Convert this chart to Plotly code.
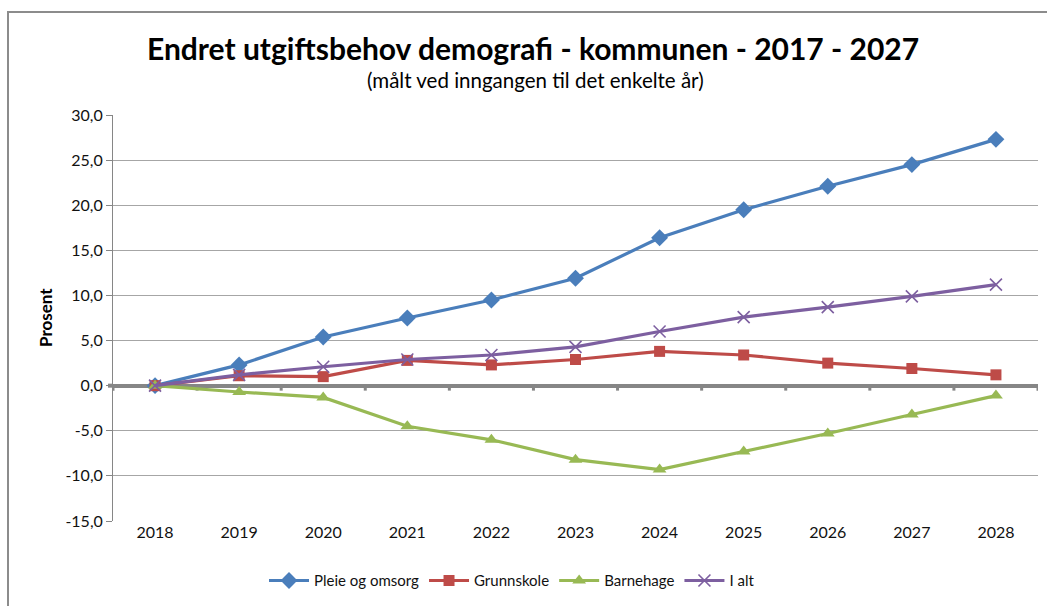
import plotly.graph_objects as go

years = [2018, 2019, 2020, 2021, 2022, 2023, 2024, 2025, 2026, 2027, 2028]
pleie = [0.0, 2.3, 5.4, 7.5, 9.5, 11.9, 16.4, 19.5, 22.1, 24.5, 27.3]
grunnskole = [0.0, 1.1, 1.0, 2.8, 2.3, 2.9, 3.8, 3.4, 2.5, 1.9, 1.2]
barnehage = [0.0, -0.7, -1.3, -4.5, -6.0, -8.2, -9.3, -7.3, -5.3, -3.2, -1.1]
i_alt = [0.0, 1.2, 2.1, 2.9, 3.4, 4.3, 6.0, 7.6, 8.7, 9.9, 11.2]
series_names = ["Pleie og omsorg", "Grunnskole", "Barnehage", "I alt"]
y_ticks = [-15, -10, -5, 0, 5, 10, 15, 20, 25, 30]
y_tick_labels = [f"{v:.1f}".replace(".", ",") for v in y_ticks]

W, H = 1047, 606
ml, mr, mt, mb = 113, 9, 115, 81
pw, ph = W - ml - mr, H - mt - mb

def px2x(px):
    return (px - ml) / pw

def py2y(py):
    return (H - mb - py) / ph

fig = go.Figure()

# tick marks on the zero axis between categories
tx, ty = [], []
for i in range(len(years) + 1):
    xv = years[0] - 0.5 + i
    tx += [xv, xv, None]
    ty += [0, -0.55, None]
fig.add_trace(go.Scatter(x=tx, y=ty, mode="lines", line=dict(color="#868686", width=3),
                         showlegend=False, hoverinfo="skip"))

styles = [
    (pleie, "#4A7EBB", dict(symbol="diamond", size=13)),
    (grunnskole, "#BE4B48", dict(symbol="square", size=11)),
    (barnehage, "#98B954", dict(symbol="triangle-up", size=12)),
    (i_alt, "#7D5FA0", dict(symbol="x-thin", size=12, line=dict(width=1.6, color="#7D5FA0"))),
]
for (vals, col, mk), name in zip(styles, series_names):
    mk = dict(mk)
    mk["color"] = col
    fig.add_trace(go.Scatter(x=years, y=vals, name=name, mode="lines+markers",
                             line=dict(color=col, width=3.2), marker=mk))

fig.update_layout(
    width=W, height=H,
    margin=dict(l=ml, r=mr, t=mt, b=mb),
    paper_bgcolor="white", plot_bgcolor="white",
    font=dict(family="Lato, 'Open Sans', sans-serif", color="#222", size=14),
    showlegend=True,
    legend=dict(orientation="h", x=px2x(512), y=py2y(602), xanchor="center", yanchor="bottom",
                font=dict(size=15, color="#111"), itemwidth=40, traceorder="normal"),
    xaxis=dict(range=[years[0] - 0.5, years[-1] + 0.5], tickvals=years,
               ticktext=[str(y) for y in years], showgrid=False, zeroline=False,
               showline=False, ticks="", tickfont=dict(size=16, color="#111"), fixedrange=True),
    yaxis=dict(range=[-15, 30], tickvals=y_ticks, ticktext=y_tick_labels, showgrid=True,
               gridcolor="#A6A6A6", gridwidth=1, zeroline=True, zerolinecolor="#868686",
               zerolinewidth=4, showline=True, linecolor="#868686", linewidth=1,
               ticks="outside", ticklen=6, tickcolor="#868686",
               tickfont=dict(size=16, color="#111")),
)

fig.add_annotation(text="<b>Endret utgiftsbehov demografi - kommunen - 2017 - 2027</b>",
                   xref="paper", yref="paper", x=px2x(533), y=py2y(47),
                   showarrow=False, font=dict(size=30, color="#000"), xanchor="center", yanchor="middle")
fig.add_annotation(text="(målt ved inngangen til det enkelte år)",
                   xref="paper", yref="paper", x=px2x(535), y=py2y(80),
                   showarrow=False, font=dict(size=20.5, color="#000"), xanchor="center", yanchor="middle")
fig.add_annotation(text="<b>Prosent</b>", textangle=-90,
                   xref="paper", yref="paper", x=px2x(45), y=py2y(320),
                   showarrow=False, font=dict(size=17, color="#000"), xanchor="center", yanchor="middle")

fig.add_shape(type="rect", xref="paper", yref="paper",
              x0=px2x(8), x1=px2x(1060), y0=py2y(620), y1=py2y(11),
              line=dict(color="#8C8C8C", width=2), layer="below")
fig.add_shape(type="line", xref="paper", yref="y", x0=px2x(108), x1=0, y0=0, y1=0,
              line=dict(color="#868686", width=4))

fig.write_html("out.html", post_script="document.body.style.margin='0';",
               config={"displayModeBar": False})
